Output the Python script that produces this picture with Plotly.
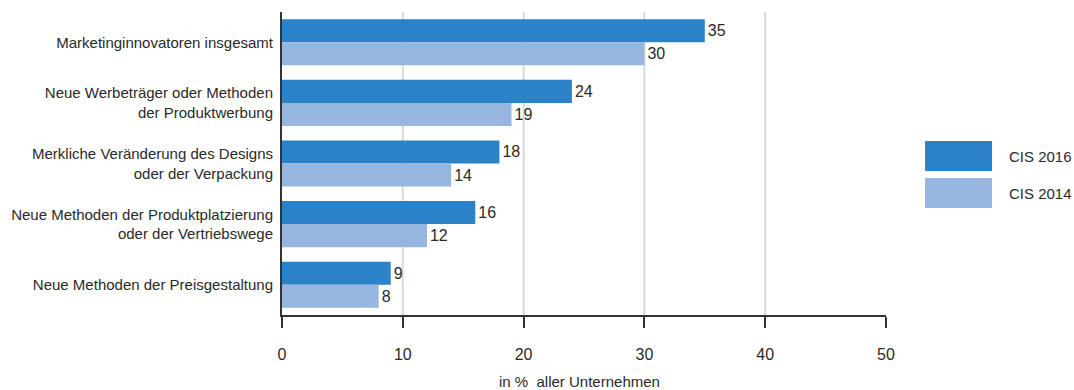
import plotly.graph_objects as go

# Kategorien (von oben nach unten) und Anteile in % aller Unternehmen
categories = [
    "Marketinginnovatoren insgesamt",
    "Neue Werbeträger oder Methoden<br>der Produktwerbung",
    "Merkliche Veränderung des Designs<br>oder der Verpackung",
    "Neue Methoden der Produktplatzierung<br>oder der Vertriebswege",
    "Neue Methoden der Preisgestaltung",
]
series_names = ["CIS 2016", "CIS 2014"]
cis_2016 = [35, 24, 18, 16, 9]
cis_2014 = [30, 19, 14, 12, 8]
x_ticks = [0, 10, 20, 30, 40, 50]
x_title = "in %  aller Unternehmen"

colors = ["#2a83c8", "#97b6df"]
text_color = "#2a2a2a"
font_family = "Liberation Sans, Arial, sans-serif"
fs = 15

fig = go.Figure()
for name, vals, col in zip(series_names, [cis_2016, cis_2014], colors):
    fig.add_trace(go.Bar(
        name=name,
        y=categories,
        x=vals,
        orientation="h",
        marker=dict(color=col, line=dict(width=0)),
        text=[str(v) for v in vals],
        textposition="outside",
        textfont=dict(size=fs + 1, color=text_color, family=font_family),
        constraintext="none",
        cliponaxis=False,
        showlegend=False,
    ))

# vertikale Hilfslinien (ohne Linie am rechten Rand)
shapes = []
for v in x_ticks[1:-1]:
    shapes.append(dict(
        type="line", xref="x", yref="paper", x0=v, x1=v, y0=0, y1=1,
        line=dict(color="#d9d9d9", width=2), layer="below",
    ))

# Legende rechts neben dem Diagramm
legend_boxes = [(0.574, 0.475), (0.452, 0.353)]
annotations = []
for (y_top, y_bot), name, col in zip(legend_boxes, series_names, colors):
    shapes.append(dict(
        type="rect", xref="paper", yref="paper",
        x0=1.0646, x1=1.1755, y0=y_bot, y1=y_top,
        fillcolor=col, line=dict(width=0),
    ))
    annotations.append(dict(
        xref="paper", yref="paper", x=1.2, y=(y_top + y_bot) / 2,
        xanchor="left", yanchor="middle", text=name, showarrow=False,
        font=dict(size=fs, color=text_color, family=font_family),
    ))

annotations.append(dict(
    xref="paper", yref="paper", x=0.492, y=-0.221,
    xanchor="center", yanchor="middle", text=x_title, showarrow=False,
    font=dict(size=fs, color=text_color, family=font_family),
))

fig.update_layout(
    width=1074, height=390,
    margin=dict(l=282, r=188, t=12, b=75),
    paper_bgcolor="white", plot_bgcolor="white",
    barmode="group", bargap=0.24, bargroupgap=0,
    font=dict(family=font_family, size=fs, color=text_color),
    shapes=shapes, annotations=annotations,
    xaxis=dict(
        range=[0, 50], tickvals=x_ticks, ticktext=[str(t) for t in x_ticks],
        showgrid=False, zeroline=False, automargin=False,
        showline=True, linecolor="#333333", linewidth=2,
        ticks="outside", ticklen=11, tickwidth=2, tickcolor="#333333",
        ticklabelstandoff=13,
        tickfont=dict(size=fs + 1, color=text_color),
    ),
    yaxis=dict(
        range=[4.5, -0.5], showgrid=False, zeroline=False, automargin=False,
        showline=True, linecolor="#333333", linewidth=2,
        ticks="", ticklabelstandoff=4,
        tickfont=dict(size=fs, color=text_color),
    ),
)

fig.write_html("out.html")
